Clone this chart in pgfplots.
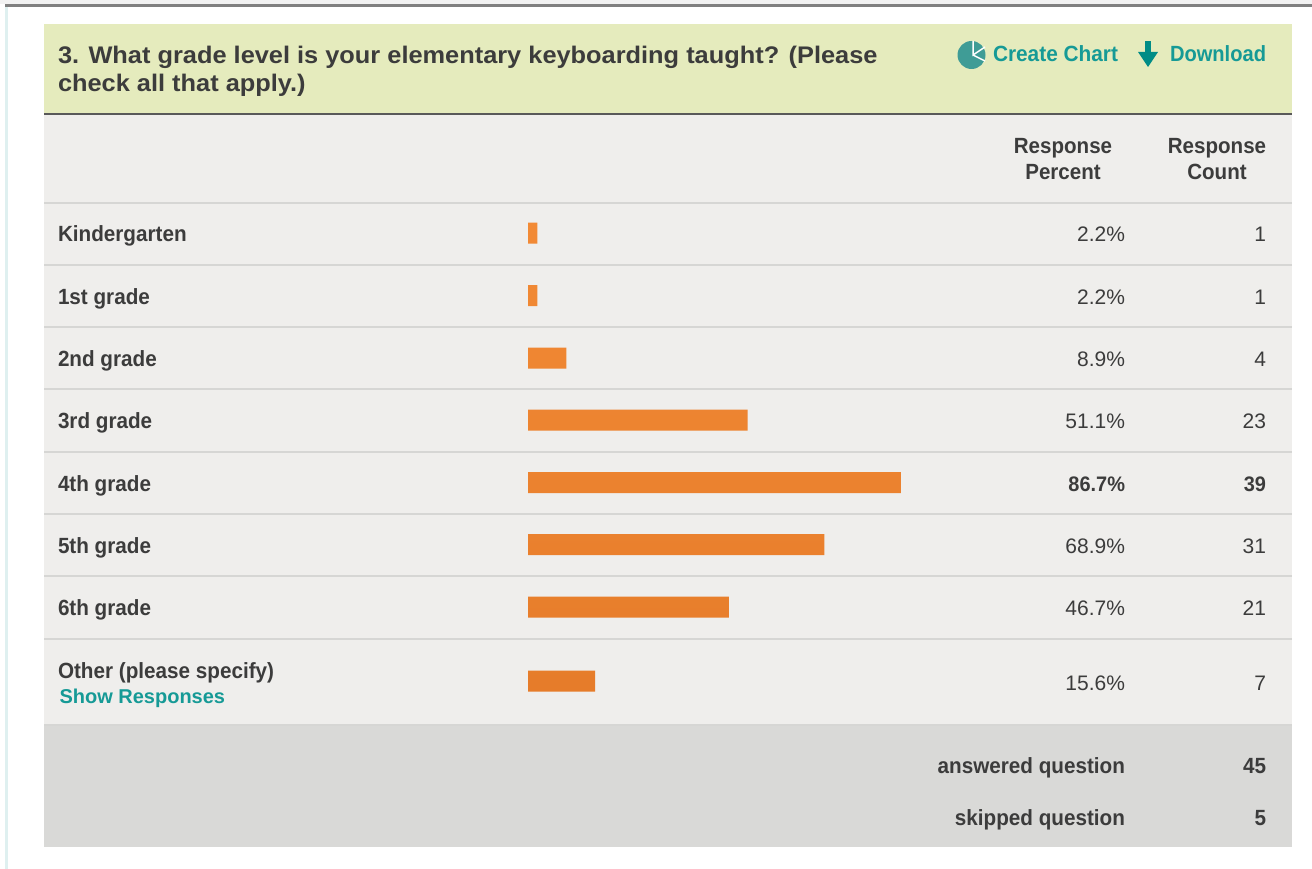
\documentclass[border=0pt]{standalone}
\usepackage{fontspec}
\setmainfont{Liberation Sans}
\usepackage{graphicx}
\usepackage{pgfplots}
\pgfplotsset{compat=1.18}
\definecolor{grn}{HTML}{E5EBBD}
\definecolor{pan}{HTML}{EFEEEC}
\definecolor{foot}{HTML}{D9D9D7}
\definecolor{rowl}{HTML}{D6D6D4}
\definecolor{txt}{HTML}{3C3C3C}
\definecolor{teal1}{HTML}{169A96}
\definecolor{tealic}{HTML}{3F9C96}
\definecolor{tealar}{HTML}{008C86}
\definecolor{strip}{HTML}{DFF0F0}
\definecolor{bartop}{HTML}{F28A35}
\definecolor{barbot}{HTML}{E67C2A}
\newcommand\ttl[1]{\scalebox{1.057}[1]{\fontsize{24}{28}\bfseries\selectfont #1}}
\newcommand\lab[1]{\scalebox{0.94}[1]{\fontsize{22}{26}\bfseries\selectfont #1}}
\newcommand\hdr[1]{\scalebox{0.934}[1]{\fontsize{22}{26}\bfseries\selectfont #1}}
\newcommand\bval[1]{\scalebox{0.95}[1]{\fontsize{21}{26}\bfseries\selectfont #1}}
\newcommand\val{\fontsize{21}{26}\selectfont}
\begin{document}
\begin{tikzpicture}[x=1pt,y=-1pt,inner sep=0pt,outer sep=0pt,text=txt]
\useasboundingbox (0,0) rectangle (1312,869);
\fill[white] (0,0) rectangle (1312,869);
\fill[black!5] (0,0) rectangle (1312,4);
\fill[gray] (5,4.5) rectangle (1312,7);
\fill[strip] (5,7) rectangle (8,869);
\fill[grn] (44,24) rectangle (1292,114);
\fill[pan] (44,114) rectangle (1292,725);
\fill[foot] (44,725) rectangle (1292,847);
\fill[black!65] (44,113.5) rectangle (1292,115);
\foreach \y in {203,265,327,389,452,514,576,639,725}
  \fill[rowl] (44,\y-0.7) rectangle (1292,\y+0.7);
\node[anchor=base west] at (58,64) {\ttl{3. What grade level is your elementary keyboarding taught? (Please}};
\node[anchor=base west] at (58,92) {\ttl{check all that apply.)}};
% icons
\fill[tealic] (971.5,55) circle (14);
\draw[white,line width=1.5] (973,41) -- (973,55) -- (985,47) (973,55) -- (985,61);
\fill[tealar] (1145,41) rectangle (1151,55);
\fill[tealar] (1138,52) -- (1158,52) -- (1148,67) -- cycle;
\node[anchor=base west,text=teal1] at (993,62) {\scalebox{0.947}[1]{\fontsize{22}{26}\bfseries\selectfont Create Chart}};
\node[anchor=base west,text=teal1] at (1170,62) {\scalebox{0.914}[1]{\fontsize{22}{26}\bfseries\selectfont Download}};
\node[anchor=base] at (1063,154) {\hdr{Response}};
\node[anchor=base] at (1063,180) {\hdr{Percent}};
\node[anchor=base] at (1217,154) {\hdr{Response}};
\node[anchor=base] at (1217,180) {\hdr{Count}};
\foreach \n/\y in {Kindergarten/241,1st grade/304,2nd grade/366,3rd grade/428,4th grade/491,5th grade/553,6th grade/615}
  \node[anchor=base west] at (58,\y) {\lab{\n}};
\node[anchor=base west] at (58,678) {\lab{Other (please specify)}};
\node[anchor=base west,text=teal1] at (59.5,703) {\fontsize{20}{24}\bfseries\selectfont Show Responses};
\foreach \p/\c/\y in {2.2/1/241,2.2/1/304,8.9/4/366,51.1/23/428,68.9/31/553,46.7/21/615,15.6/7/690}{
  \node[anchor=base east] at (1125,\y) {\val \p\%};
  \node[anchor=base east] at (1266,\y) {\val \c};
}
\node[anchor=base east] at (1125,491) {\bval{86.7\%}};
\node[anchor=base east] at (1266,491) {\bval{39}};
\node[anchor=base east] at (1125,773) {\lab{answered question}};
\node[anchor=base east] at (1266,773) {\lab{45}};
\node[anchor=base east] at (1125,825) {\lab{skipped question}};
\node[anchor=base east] at (1266,825) {\lab{5}};
\begin{axis}[at={(0,0)},anchor=north west,scale only axis,width=1312pt,height=869pt,
  hide axis,clip=false,y dir=reverse,
  xmin=-122.79,xmax=182.33,ymin=0,ymax=869]
\addplot[xbar,bar width=21pt,draw=none,top color=bartop,bottom color=barbot] coordinates {
 (2.2,233) (2.2,295.5) (8.9,358) (51.1,420) (86.7,482.5) (68.9,544.5) (46.7,607) (15.6,681)};
\end{axis}
\end{tikzpicture}
\end{document}
